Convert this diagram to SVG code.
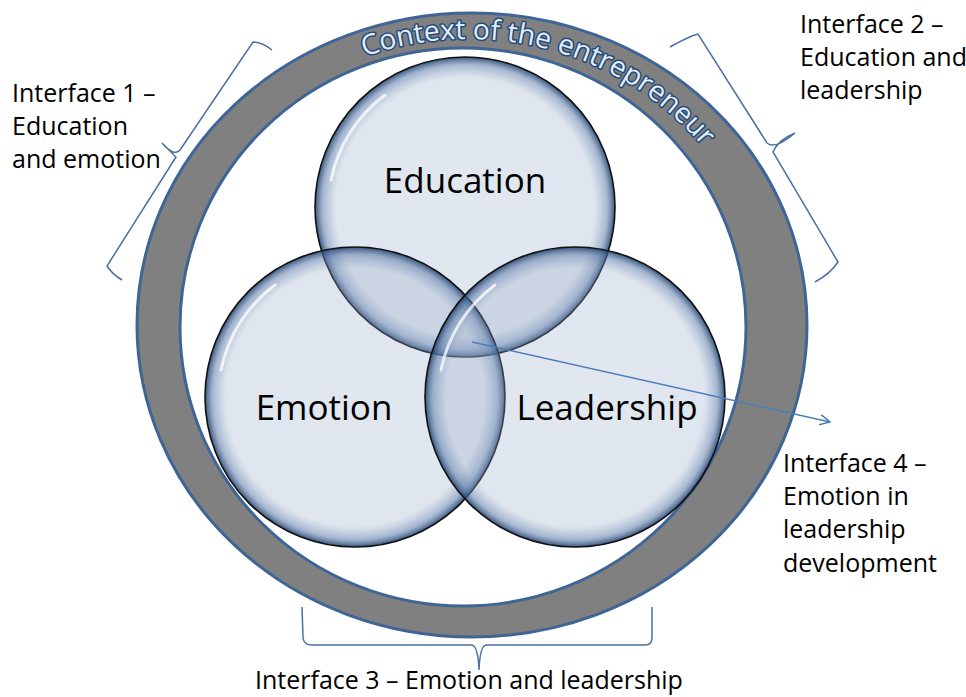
<svg xmlns="http://www.w3.org/2000/svg" width="966" height="697" viewBox="0 0 966 697">
<style>
.lbl{font-family:"Open Sans","Liberation Sans",sans-serif;font-size:25px;fill:#000}
.main{font-family:"Open Sans","Liberation Sans",sans-serif;font-size:35px;fill:#000}
.ring{font-family:"Open Sans","Liberation Sans",sans-serif;font-size:28px;fill:#e3eef9;stroke:#1f4a7a;stroke-width:3px;paint-order:stroke;stroke-linejoin:round}
.brace{fill:none;stroke:#4a6fa5;stroke-width:1.5}
.circ{fill:url(#cg);stroke:#111;stroke-width:1.6}
.hl{fill:none;stroke:#fff;stroke-width:3;stroke-opacity:0.75;stroke-linecap:round}
</style>
<defs>
<radialGradient id="cg" cx="0.5" cy="0.5" r="0.5">
<stop offset="0" stop-color="#96aac8" stop-opacity="0.28"/>
<stop offset="0.86" stop-color="#96aac8" stop-opacity="0.3"/>
<stop offset="0.95" stop-color="#5a7aa8" stop-opacity="0.55"/>
<stop offset="1" stop-color="#23436f" stop-opacity="0.9"/>
</radialGradient>
<marker id="arr" viewBox="0 0 12 12" refX="11" refY="6" markerWidth="12" markerHeight="12" markerUnits="userSpaceOnUse" orient="auto">
<path d="M1,1 L11,6 L1,11" fill="none" stroke="#4a7ebb" stroke-width="1.5"/>
</marker>
<path id="ringText" d="M167,327 A301,288 0 0 1 769,327"/>
</defs>
<rect width="966" height="697" fill="#fff"/>
<g id="context">
<path d="M137,325 a335,312 0 1 0 670,0 a335,312 0 1 0 -670,0 Z M180,327 a283,279 0 1 0 566,0 a283,279 0 1 0 -566,0 Z" fill="#808080" fill-rule="evenodd" stroke="#3f6597" stroke-width="3"/>
<text class="ring"><textPath href="#ringText" startOffset="357" textLength="372" lengthAdjust="spacingAndGlyphs">Context of the entrepreneur</textPath></text>
</g>
<g id="education">
<circle class="circ" cx="465" cy="207" r="150"/>
<path class="hl" d="M331,180 A140,140 0 0 1 385,95"/>
<text class="main" x="465" y="193" text-anchor="middle">Education</text>
</g>
<g id="emotion">
<circle class="circ" cx="355" cy="397" r="150"/>
<path class="hl" d="M221,370 A140,140 0 0 1 275,285"/>
<text class="main" x="324" y="420" text-anchor="middle">Emotion</text>
</g>
<g id="leadership">
<circle class="circ" cx="575" cy="397" r="150"/>
<path class="hl" d="M441,370 A140,140 0 0 1 495,285"/>
<text class="main" x="607" y="420" text-anchor="middle">Leadership</text>
</g>
<g id="connectors">
<line x1="472" y1="342" x2="830" y2="422" stroke="#4a7ebb" stroke-width="1.5" marker-end="url(#arr)"/>
<path class="brace" d="M272,50 Q262,42 253,42 L180,150 Q174,157 162,143 Q170,151 176,157 L107,266 Q112,274 122,280"/>
<path class="brace" d="M670,47 Q690,36 698,34 L767,143 Q775,150 795,133 Q778,140 773,152 L838,262 Q830,274 815,282"/>
<path class="brace" d="M302,607 L303,638 Q304,645 312,645 L472,645 Q478,646 479,670 Q480,646 486,645 L645,645 Q652,645 652,638 L652,607"/>
</g>
<g id="interface1">
<text class="lbl" x="12" y="102">Interface 1 –</text>
<text class="lbl" x="12" y="135">Education</text>
<text class="lbl" x="12" y="168">and emotion</text>
</g>
<g id="interface2">
<text class="lbl" x="800" y="33">Interface 2 –</text>
<text class="lbl" x="800" y="66">Education and</text>
<text class="lbl" x="800" y="99">leadership</text>
</g>
<g id="interface4">
<text class="lbl" x="783" y="472">Interface 4 –</text>
<text class="lbl" x="783" y="505">Emotion in</text>
<text class="lbl" x="783" y="538">leadership</text>
<text class="lbl" x="783" y="572">development</text>
</g>
<g id="interface3">
<text class="lbl" x="255" y="689">Interface 3 – Emotion and leadership</text>
</g>
</svg>
